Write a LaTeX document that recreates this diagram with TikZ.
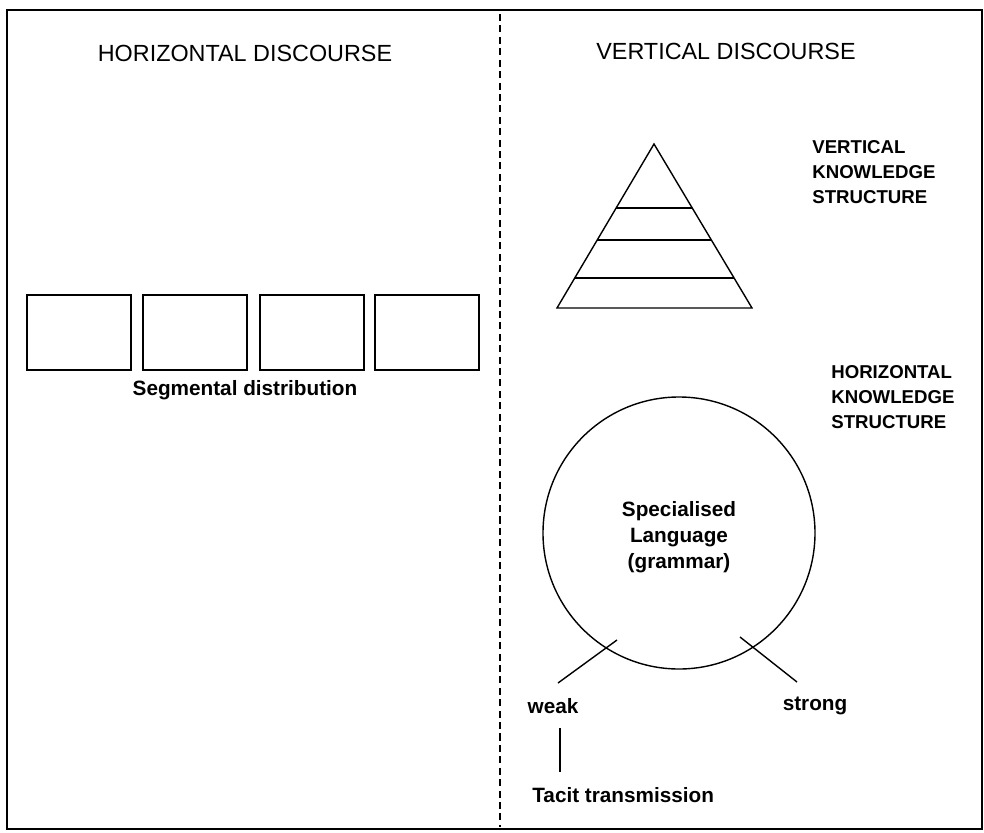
\documentclass[tikz,border=0pt]{standalone}
\usepackage{fontspec}
\setmainfont{Liberation Sans}
\usetikzlibrary{calc}
\begin{document}
\begin{tikzpicture}[x=0.02cm,y=-0.02cm,
  lbl/.style={inner sep=0pt,font=\fontsize{11.8}{14}\selectfont\bfseries},
  title/.style={inner sep=0pt,font=\fontsize{13.3}{15}\selectfont},
  ks/.style={inner sep=0pt,align=left,font=\fontsize{10.6}{14.2}\selectfont\bfseries},
  seg/.style={draw,line width=1.1pt,minimum width=104*0.02cm,minimum height=75*0.02cm,inner sep=0pt},
  ln/.style={line width=0.8pt}]
\useasboundingbox (0,0) rectangle (984,832);
\draw[line width=1.2pt] (7,10) rectangle (982,829);
\coordinate (dtop) at (500,14);
\coordinate (dbot) at (500,827);
\draw[line width=1pt,dash pattern=on 4pt off 2.5pt] (dtop) -- (dbot);
\node[title] (th) at (245,53) {HORIZONTAL DISCOURSE};
\node[title] (tv) at (726,51) {VERTICAL DISCOURSE};
% boxes
\node[seg] (b1) at (79,332.5) {};
\node[seg] (b2) at (195,332.5) {};
\node[seg] (b3) at (312,332.5) {};
\node[seg] (b4) at (427,332.5) {};
\node[lbl] (segd) at (245,390) {Segmental distribution};
% pyramid
\coordinate (apex) at (654,144);
\coordinate (bl) at (557,308);
\coordinate (br) at (752,308);
\draw[ln,line join=miter] (apex) -- (bl) -- (br) -- cycle;
\foreach \f in {0.3902,0.5854,0.8171}{
  \draw[ln] ($(apex)!\f!(bl)$) -- ($(apex)!\f!(br)$);
}
\node[ks,anchor=north west] (vks) at (812,140) {VERTICAL\\KNOWLEDGE\\STRUCTURE};
\node[ks,anchor=north west] (hks) at (831,365) {HORIZONTAL\\KNOWLEDGE\\STRUCTURE};
% circle
\node[draw,circle,line width=0.8pt,minimum size=272*0.02cm,inner sep=0pt] (circ) at (679,533) {};
\node[lbl,align=center,font=\fontsize{11.8}{14.8}\selectfont\bfseries] (spec) at (679,537) {Specialised\\Language\\(grammar)};
\coordinate (w1) at (617,640);
\coordinate (w2) at (558,683);
\coordinate (s1) at (740,637);
\coordinate (s2) at (797,682);
\draw[ln] (w1) -- (w2);
\draw[ln] (s1) -- (s2);
\node[lbl] (weak) at (553,706) {weak};
\node[lbl] (strong) at (815,706) {strong};
\coordinate (t1) at (560,728);
\coordinate (t2) at (560,772);
\draw[ln] (t1) -- (t2);
\node[lbl,anchor=west] (tacit) at (532,795) {Tacit transmission};
\end{tikzpicture}
\end{document}
